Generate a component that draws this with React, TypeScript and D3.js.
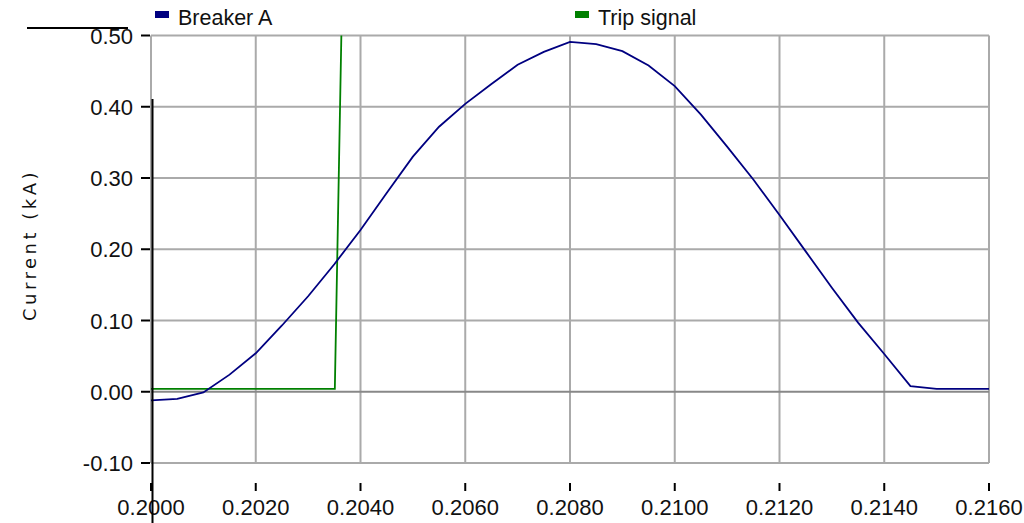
import React, { useEffect, useRef } from "react"
import * as d3 from "d3"

// sample times (s) and breaker current (kA)
const times = [
  0.2, 0.2005, 0.201, 0.2015, 0.202, 0.2025, 0.203, 0.2035, 0.204, 0.2045, 0.205,
  0.2055, 0.206, 0.2065, 0.207, 0.2075, 0.208, 0.2085, 0.209, 0.2095, 0.21,
  0.2105, 0.211, 0.2115, 0.212, 0.2125, 0.213, 0.2135, 0.214, 0.2145, 0.215,
  0.2155, 0.216,
]
const breakerA = [
  -0.012, -0.01, -0.001, 0.024, 0.054, 0.093, 0.134, 0.179, 0.227, 0.279, 0.33,
  0.372, 0.404, 0.432, 0.459, 0.477, 0.491, 0.488, 0.478, 0.458, 0.429,
  0.389, 0.344, 0.298, 0.248, 0.197, 0.146, 0.097, 0.053, 0.008, 0.004,
  0.004, 0.004,
]

// trip signal steps up just after 0.2035 s
const tripTimes = [0.2, 0.20351, 0.20376, 0.216]
const tripSignal = [0.004, 0.004, 1.0, 1.0]

const xTicks = [0.2, 0.202, 0.204, 0.206, 0.208, 0.21, 0.212, 0.214, 0.216]
const yTicks = [-0.1, 0, 0.1, 0.2, 0.3, 0.4, 0.5]

const seriesNames = ["Breaker A", "Trip signal"]
const seriesColors = ["#000080", "#008000"]

const App = () => {
  const ref = useRef<SVGSVGElement>(null)

  useEffect(() => {
    const svg = d3.select(ref.current)
    svg.selectAll("*").remove()

    const left = 151
    const right = 989
    const top = 35.5
    const bottom = 463

    const x = d3.scaleLinear().domain([0.2, 0.216]).range([left, right])
    const y = d3.scaleLinear().domain([-0.1, 0.5]).range([bottom, top])

    const font = "'Liberation Sans', Arial, sans-serif"

    svg
      .append("defs")
      .append("clipPath")
      .attr("id", "plot-clip")
      .append("rect")
      .attr("x", left)
      .attr("y", top)
      .attr("width", right - left)
      .attr("height", bottom - top)

    // grid
    const grid = svg.append("g")
    grid
      .selectAll("line.v")
      .data(xTicks)
      .enter()
      .append("line")
      .attr("x1", (d) => x(d))
      .attr("x2", (d) => x(d))
      .attr("y1", top)
      .attr("y2", bottom)
      .attr("stroke", "#aaaaaa")
      .attr("stroke-width", 2)
    grid
      .selectAll("line.h")
      .data(yTicks)
      .enter()
      .append("line")
      .attr("x1", left)
      .attr("x2", right)
      .attr("y1", (d) => y(d))
      .attr("y2", (d) => y(d))
      .attr("stroke", (d) => (d === 0 ? "#888888" : "#aaaaaa"))
      .attr("stroke-width", 2)

    // y axis ticks + labels
    svg
      .selectAll("line.yt")
      .data(yTicks)
      .enter()
      .append("line")
      .attr("x1", left - 10)
      .attr("x2", left - 1)
      .attr("y1", (d) => y(d))
      .attr("y2", (d) => y(d))
      .attr("stroke", "#000")
      .attr("stroke-width", 2)
    svg
      .selectAll("text.yl")
      .data(yTicks)
      .enter()
      .append("text")
      .attr("x", 133)
      .attr("y", (d) => y(d) + 8)
      .attr("text-anchor", "end")
      .style("font-family", font)
      .style("font-size", "22px")
      .attr("fill", "#111")
      .text((d) => d.toFixed(2))

    // x axis ticks + labels
    svg
      .selectAll("line.xt")
      .data(xTicks)
      .enter()
      .append("line")
      .attr("x1", (d) => x(d))
      .attr("x2", (d) => x(d))
      .attr("y1", 483)
      .attr("y2", 491)
      .attr("stroke", "#000")
      .attr("stroke-width", 2)
    svg
      .selectAll("text.xl")
      .data(xTicks)
      .enter()
      .append("text")
      .attr("x", (d) => x(d))
      .attr("y", 515)
      .attr("text-anchor", "middle")
      .style("font-family", font)
      .style("font-size", "22px")
      .attr("fill", "#111")
      .text((d) => d.toFixed(4))

    // y title
    svg
      .append("text")
      .attr("transform", "translate(36,245) rotate(-90)")
      .attr("text-anchor", "middle")
      .style("font-family", "'DejaVu Sans', sans-serif")
      .style("font-size", "18px")
      .style("letter-spacing", "3.5px")
      .attr("fill", "#111")
      .text("Current (kA)")

    // series
    const line = d3
      .line<[number, number]>()
      .x((d) => x(d[0]))
      .y((d) => y(d[1]))

    const plot = svg.append("g").attr("clip-path", "url(#plot-clip)")
    plot
      .append("path")
      .attr("d", line(tripTimes.map((t, i) => [t, tripSignal[i]])))
      .attr("fill", "none")
      .attr("stroke", seriesColors[1])
      .attr("stroke-width", 1.8)
    plot
      .append("path")
      .attr("d", line(times.map((t, i) => [t, breakerA[i]])))
      .attr("fill", "none")
      .attr("stroke", seriesColors[0])
      .attr("stroke-width", 1.8)

    // legend
    const legendX = [155, 575]
    const legend = svg
      .selectAll("g.legend")
      .data(seriesNames)
      .enter()
      .append("g")
      .attr("transform", (d, i) => `translate(${legendX[i]},0)`)
    legend
      .append("rect")
      .attr("x", 0)
      .attr("y", 11)
      .attr("width", 14)
      .attr("height", 7)
      .attr("fill", (d, i) => seriesColors[i])
    legend
      .append("text")
      .attr("x", 23)
      .attr("y", 25)
      .style("font-family", font)
      .style("font-size", "21.5px")
      .attr("fill", "#111")
      .text((d) => d)

    // stray black strokes seen in the original
    svg
      .append("line")
      .attr("x1", 27)
      .attr("x2", 128)
      .attr("y1", 28)
      .attr("y2", 28)
      .attr("stroke", "#000")
      .attr("stroke-width", 2)
    svg
      .append("line")
      .attr("x1", 152.5)
      .attr("x2", 152.5)
      .attr("y1", 99)
      .attr("y2", 523)
      .attr("stroke", "#000")
      .attr("stroke-width", 2)
  })

  return (
    <svg
      ref={ref}
      width={1024}
      height={523}
      style={{ position: "absolute", left: 0, top: 0, background: "#fff" }}
    />
  )
}

export default App
